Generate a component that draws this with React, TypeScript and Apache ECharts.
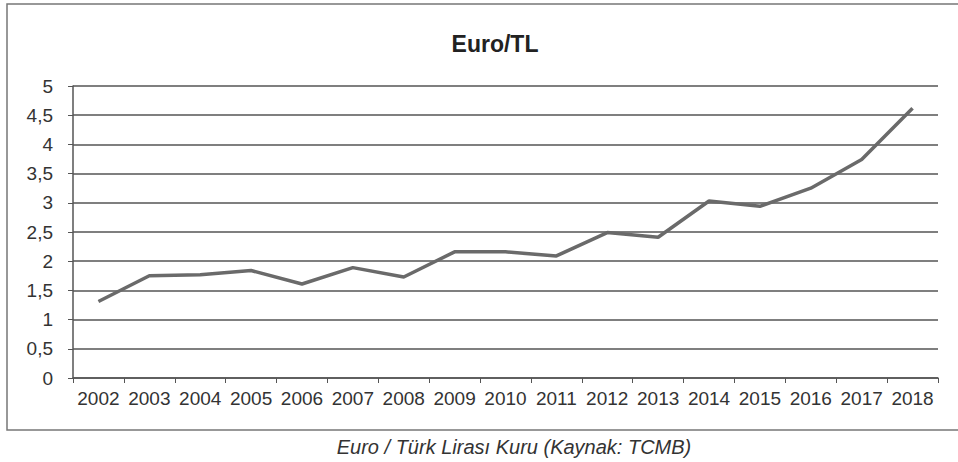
import React, { useEffect, useRef } from "react";
import * as echarts from "echarts";

const years = ["2002","2003","2004","2005","2006","2007","2008","2009","2010","2011","2012","2013","2014","2015","2016","2017","2018"];
const euroTl = [1.31, 1.75, 1.77, 1.84, 1.61, 1.89, 1.73, 2.16, 2.16, 2.09, 2.49, 2.41, 3.03, 2.94, 3.25, 3.74, 4.62];
const titleText = "Euro/TL";
const captionText = "Euro / Türk Lirası Kuru (Kaynak: TCMB)";

export default function App() {
  const ref = useRef<HTMLDivElement>(null);
  useEffect(() => {
    if (!ref.current) return;
    const chart = echarts.init(ref.current, null, { renderer: "svg" });
    chart.setOption({
      animation: false,
      backgroundColor: "#fff",
      textStyle: { fontFamily: "Liberation Sans, Arial, sans-serif" },
      title: {
        text: titleText,
        left: 490,
        top: 27,
        textAlign: "center",
        textStyle: { fontSize: 23, fontWeight: "bold", color: "#222", fontFamily: "Liberation Sans, Arial, sans-serif" },
      },
      graphic: [
        {
          type: "rect",
          shape: { x: 7, y: 4, width: 970, height: 426 },
          style: { fill: "none", stroke: "#777", lineWidth: 1.5 },
          silent: true,
        },
        {
          type: "text",
          x: 514,
          y: 447,
          style: {
            text: captionText,
            align: "center",
            verticalAlign: "middle",
            fontSize: 20,
            fontStyle: "italic",
            fill: "#333",
            fontFamily: "Liberation Sans, Arial, sans-serif",
          },
        },
      ],
      grid: { left: 73, right: 20, top: 86, bottom: 84, containLabel: false },
      xAxis: {
        type: "category",
        data: years,
        boundaryGap: true,
        axisLine: { lineStyle: { color: "#555", width: 1.5 } },
        axisTick: { show: true, length: 5, lineStyle: { color: "#555" } },
        axisLabel: { fontSize: 19, color: "#333", margin: 11, interval: 0 },
        splitLine: { show: false },
      },
      yAxis: {
        type: "value",
        min: 0,
        max: 5,
        interval: 0.5,
        axisLine: { show: true, lineStyle: { color: "#555", width: 1.5 } },
        axisTick: { show: true, length: 5, lineStyle: { color: "#555" } },
        axisLabel: {
          fontSize: 19,
          color: "#333",
          margin: 20,
          formatter: (v: number) => String(v).replace(".", ","),
        },
        splitLine: { show: true, lineStyle: { color: "#555", width: 1.5 } },
      },
      series: [
        {
          type: "line",
          data: euroTl,
          symbol: "none",
          lineStyle: { color: "#6a6a6a", width: 3.5 },
        },
      ],
    });
    return () => chart.dispose();
  }, []);
  return <div ref={ref} style={{ position: "fixed", left: 0, top: 0, width: 958, height: 462 }} />;
}
